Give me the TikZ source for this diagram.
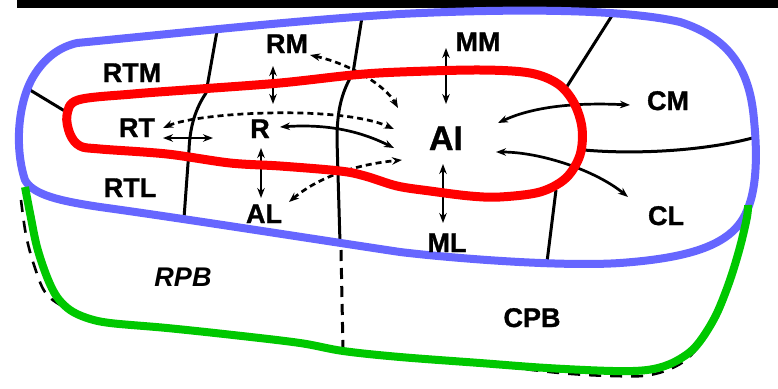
\documentclass[tikz,border=0pt]{standalone}
\usepackage{fontspec}
\setmainfont{Liberation Sans}[BoldFeatures={FakeBold=1.2}]
\usetikzlibrary{arrows.meta}
\definecolor{beltblue}{RGB}{102,102,255}
\definecolor{corered}{RGB}{255,0,0}
\definecolor{parabeltgreen}{RGB}{0,200,0}
\tikzset{
  area/.style={font=\fontsize{27}{27}\selectfont\bfseries, inner sep=0pt, anchor=base},
  border/.style={line width=3pt, black},
  link/.style={line width=2.7pt, black, {Stealth[length=10pt,width=7.5pt]}-{Stealth[length=10pt,width=7.5pt]}},
  dlink/.style={link, dash pattern=on 6pt off 4pt},
}
\begin{document}
\begin{tikzpicture}[x=1pt,y=-1pt]
\useasboundingbox (0,0) rectangle (778,388);
\fill[white] (0,0) rectangle (778,388);
\fill[black] (17,0) rectangle (778,7.5);

% area boundaries
\draw[border] (30,90) -- (68,113);
\draw[border] (217,31) -- (206,93) .. controls (196,108) and (190,125) .. (189,150) -- (184,218);
\draw[border] (362,17) -- (353,73) .. controls (341,93) and (337,112) .. (337,140) -- (340,243);
\draw[border, dash pattern=on 11pt off 7pt] (341,250) -- (343,350);
\draw[border] (613,14) -- (566,88);
\draw[border] (584,150) .. controls (640,155) and (710,150) .. (756,137);
\draw[border] (556,190) -- (547,262);

% older parabelt outline, mostly covered by the green one
\draw[black, line width=2.6pt, dash pattern=on 12pt off 9pt]
  plot[smooth, tension=0.6] coordinates {(21,200) (26,235) (34,265) (45,292) (62,306) (85,316) (130,325) (233,335) (343,351) (480,364) (560,373) (613,376) (650,375) (680,364) (700,345) (712,325)};

% belt
\draw[beltblue, line width=8pt]
  (77,43) .. controls (180,33) and (300,20) .. (400,14)
  .. controls (500,9) and (620,8) .. (680,22)
  .. controls (730,38) and (750,70) .. (754,120)
  .. controls (757,150) and (758,190) .. (745,215)
  .. controls (730,245) and (690,258) .. (620,263)
  .. controls (560,267) and (450,258) .. (400,252)
  .. controls (320,240) and (180,218) .. (100,207)
  .. controls (60,201) and (33,195) .. (25,180)
  .. controls (15,150) and (17,105) .. (33,77)
  .. controls (45,57) and (60,47) .. cycle;

% parabelt
\draw[parabeltgreen, line width=8pt]
  plot[smooth, tension=0.55] coordinates {
    (25,187) (30,213) (37,247) (47,277) (57,297) (70,310) (87,318) (110,323)
    (167,328) (233,335) (300,343) (343,351) (400,357) (480,363) (547,368)
    (613,371) (647,370) (670,364) (690,352) (703,337) (717,313) (730,280)
    (740,247) (747,217) (748,205)};

% named end points of the connections
\coordinate (rtE1) at (163,138);  \coordinate (rtE2) at (213,138);
\coordinate (rtD)  at (163,128);  \coordinate (aiD1) at (394,129);
\coordinate (rmD)  at (310,55);   \coordinate (aiD2) at (398,108);
\coordinate (rmV)  at (273,66);   \coordinate (rV)   at (273,104);
\coordinate (rS)   at (280,127);  \coordinate (aiS)  at (394,148);
\coordinate (rV2)  at (261,148);  \coordinate (alV)  at (261,198);
\coordinate (alD)  at (289,202);  \coordinate (aiD3) at (402,160);
\coordinate (mmV)  at (446,48);   \coordinate (aiV1) at (446,104);
\coordinate (aiV2) at (443,164);  \coordinate (mlV)  at (443,223);
\coordinate (aiC1) at (498,123);  \coordinate (cmE)  at (630,105);
\coordinate (aiC2) at (496,152);  \coordinate (clE)  at (628,197);

% connections
\draw[link] (rtE1) -- (rtE2);
\draw[dlink] (rtD) .. controls (200,112) and (340,105) .. (aiD1);
\draw[dlink] (rmD) .. controls (350,64) and (385,85) .. (aiD2);
\draw[link] (rmV) -- (rV);
\draw[link] (rS) .. controls (325,124) and (358,130) .. (aiS);
\draw[link] (rV2) -- (alV);
\draw[dlink] (alD) .. controls (315,180) and (350,165) .. (aiD3);
\draw[link] (mmV) -- (aiV1);
\draw[link] (aiV2) -- (mlV);
\draw[link] (aiC1) .. controls (530,108) and (570,102) .. (cmE);
\draw[link] (aiC2) .. controls (540,152) and (595,170) .. (clE);

% core
\draw[corered, line width=9pt]
  plot[smooth cycle, tension=0.55] coordinates {
    (78,100) (133,94) (200,89) (280,83) (353,75) (400,72) (480,70) (530,73)
    (558,84) (574,103) (582,128) (580,155) (566,178) (540,192) (500,197)
    (470,196) (430,191) (397,186) (365,176) (340,171) (280,166) (230,163)
    (167,154) (100,149) (80,146) (70,134) (67,115)};

% area names
\node[area] (RTM) at (132,82) {RTM};
\node[area] (RT)  at (137,137) {RT};
\node[area] (RTL) at (130,197) {RTL};
\node[area] (RM)  at (287,53) {RM};
\node[area] (R)   at (260,138) {R};
\node[area] (AL)  at (264,223) {AL};
\node[area] (MM)  at (478,51) {MM};
\node[area, font=\fontsize{34}{34}\selectfont\bfseries] (AI) at (446,150) {AI};
\node[area] (ML)  at (447,252) {ML};
\node[area] (CM)  at (668,110) {CM};
\node[area] (CL)  at (666,225) {CL};
\node[area, font=\fontsize{27}{27}\selectfont\bfseries\itshape] (RPB) at (183,286) {RPB};
\node[area] (CPB) at (532,327) {CPB};
\end{tikzpicture}
\end{document}
